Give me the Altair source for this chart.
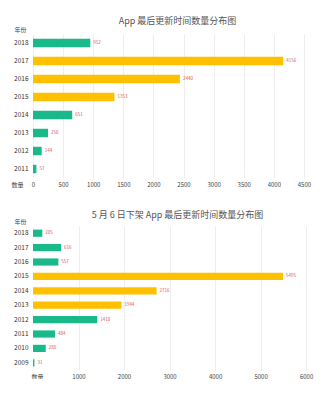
import altair as alt
import pandas as pd

# Top chart data
top_years = ["2018", "2017", "2016", "2015", "2014", "2013", "2012", "2011"]
top_counts = [952, 4156, 2440, 1353, 651, 250, 144, 57]
top_highlight = ["2017", "2016", "2015"]
top_ticks = [0, 500, 1000, 1500, 2000, 2500, 3000, 3500, 4000, 4500]

# Bottom chart data
bot_years = ["2018", "2017", "2016", "2015", "2014", "2013", "2012", "2011", "2010", "2009"]
bot_counts = [205, 616, 557, 5495, 2716, 1944, 1410, 484, 280, 31]
bot_highlight = ["2015", "2014", "2013"]
bot_ticks = [1000, 2000, 3000, 4000, 5000, 6000]

FONT = "Noto Sans CJK SC"
GREEN = "#19b98b"
GOLD = "#ffc000"


def make(years, counts, hl, ticks, xmax, step, pad, title, xtitle_x, toff):
    df = pd.DataFrame({
        "year": years,
        "count": counts,
        "grp": ["hl" if y in hl else "base" for y in years],
    })
    base = alt.Chart(df).encode(
        y=alt.Y("year:N", sort=years,
                scale=alt.Scale(paddingInner=pad, paddingOuter=pad / 2),
                axis=alt.Axis(title="年份", titleAngle=0, titleAlign="right",
                              titleBaseline="bottom", titleX=-7, titleY=-2,
                              titleFontSize=6, titleFontWeight="normal",
                              titleColor="#444", labelFontSize=6.5,
                              labelColor="#333", domain=False, ticks=False,
                              labelPadding=5)),
        x=alt.X("count:Q", scale=alt.Scale(domain=[0, xmax], nice=False),
                axis=alt.Axis(values=ticks, format="d", title="数量",
                              titleAlign="right",
                              titleBaseline="middle", titleX=xtitle_x, titleY=6,
                              titleFontSize=6, titleFontWeight="normal",
                              titleColor="#444", labelFontSize=6,
                              labelColor="#444", domain=False, ticks=False,
                              labelOverlap=False, labelFlush=False,
                              grid=True, gridColor="#eeeeee",
                              labelPadding=3)),
    )
    bars = base.mark_bar().encode(
        color=alt.Color("grp:N", scale=alt.Scale(domain=["base", "hl"],
                                                 range=[GREEN, GOLD]),
                        legend=None),
    )
    labels = base.mark_text(align="left", baseline="middle", dx=3,
                            fontSize=4.5, color="#e05050", font=FONT).encode(
        text=alt.Text("count:Q", format="d"))
    return (bars + labels).properties(
        width=289, height=alt.Step(step),
        title=alt.TitleParams(title, fontSize=9, fontWeight="normal",
                              color="#555", font=FONT, anchor="middle",
                              frame="group", offset=toff),
    )


top = make(top_years, top_counts, top_highlight, top_ticks, 4800, 18, 0.53,
           "App 最后更新时间数量分布图", -10, 0)
bot = make(bot_years, bot_counts, bot_highlight, bot_ticks, 6350, 14.4, 0.5,
           "5 月 6 日下架 App 最后更新时间数量分布图", 10, -2)

chart = alt.vconcat(top, bot, spacing=24).properties(
    padding={"left": 10, "top": 17, "right": 0, "bottom": 0},
    background="white",
).configure(font=FONT, view=alt.ViewConfig(stroke=None))

chart.save("out.html", embed_options={"renderer": "svg", "actions": False})
